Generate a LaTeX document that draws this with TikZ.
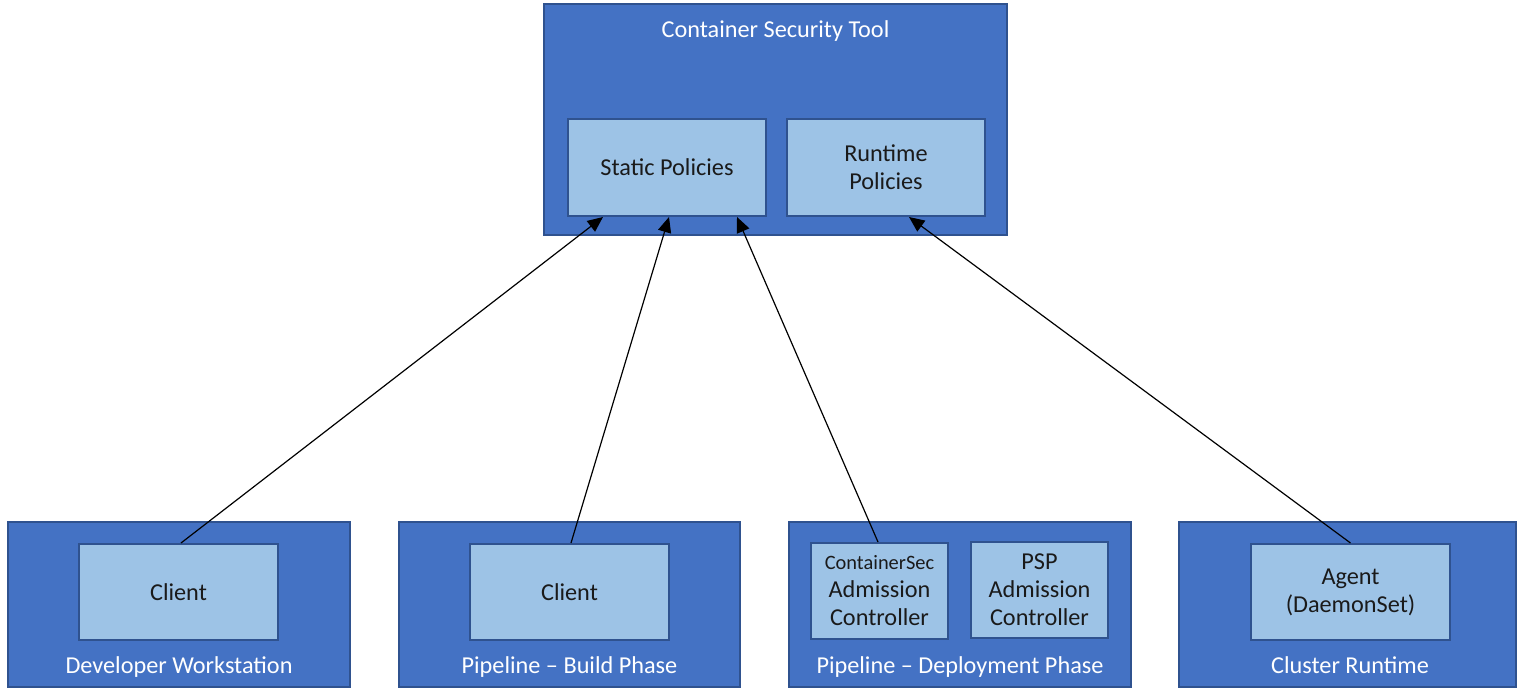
\documentclass[tikz,border=0pt]{standalone}
\usepackage{fontspec}
\setmainfont{Carlito}
\usetikzlibrary{arrows.meta,calc}
\definecolor{outerfill}{HTML}{4472C4}
\definecolor{outerline}{HTML}{2F528F}
\definecolor{innerfill}{HTML}{9DC3E6}
\definecolor{innerline}{HTML}{2F528F}
\definecolor{innertext}{HTML}{1A1A1A}
\tikzset{
  outerbox/.style={draw=outerline, line width=1.5pt, fill=outerfill, inner sep=0pt},
  innerbox/.style={draw=innerline, line width=1.5pt, fill=innerfill, inner sep=0pt,
    text=innertext, align=center, font=\fontsize{18.2}{21}\selectfont},
  boxlabel/.style={text=white, font=\fontsize{18.2}{21}\selectfont, inner sep=0pt, anchor=base},
  link/.style={draw=black, line width=0.9pt, -{Triangle[length=11.5pt,width=10pt]}}
}
\begin{document}
\begin{tikzpicture}[x=0.75pt,y=-0.75pt]
\useasboundingbox (0,0) rectangle (1518,689);

% tool with its two policy sets
\node[outerbox, minimum width=347.25pt, minimum height=173.25pt] (tool) at (775.5,119.5) {};
\node[boxlabel] (toollbl) at (775.5,37) {Container Security Tool};
\node[innerbox, minimum width=148.5pt, minimum height=72.75pt] (static) at (667,167.5) {Static Policies};
\node[innerbox, minimum width=148.5pt, minimum height=72.75pt] (runtime) at (886,167.5) {Runtime\\Policies};

% stages along the bottom
\node[outerbox, minimum width=256.5pt, minimum height=123.75pt] (dev) at (179,604.5) {};
\node[outerbox, minimum width=255.75pt, minimum height=123.75pt] (build) at (569.5,604.5) {};
\node[outerbox, minimum width=256.5pt, minimum height=123.75pt] (deploy) at (960,604.5) {};
\node[outerbox, minimum width=252.75pt, minimum height=123.75pt] (cluster) at (1347.5,604.5) {};

\node[boxlabel] (devlbl) at (179,673) {Developer Workstation};
\node[boxlabel] (buildlbl) at (569.5,673) {Pipeline -- Build Phase};
\node[boxlabel] (deploylbl) at (960,673) {Pipeline -- Deployment Phase};
\node[boxlabel] (clusterlbl) at (1350,673) {Cluster Runtime};

\node[innerbox, minimum width=149.25pt, minimum height=72pt] (client1) at (178.5,592) {Client};
\node[innerbox, minimum width=149.25pt, minimum height=72pt] (client2) at (569.5,592) {Client};
\node[innerbox, minimum width=102.75pt, minimum height=72pt] (csec) at (879.5,591)
  {{\fontsize{15.3}{20}\selectfont ContainerSec}\\Admission\\Controller};
\node[innerbox, minimum width=102.75pt, minimum height=72pt] (psp) at (1039.5,589.5)
  {PSP\\Admission\\Controller};
\node[innerbox, minimum width=149.25pt, minimum height=72pt] (agent) at (1350.5,592) {Agent\\(DaemonSet)};

% reporting links
\draw[link] ($(client1.north)+(2.5,0)$) -- ($(static.south west)+(36,0)$);
\draw[link] ($(client2.north)+(1.5,0)$) -- ($(static.south west)+(102,0)$);
\draw[link] ($(csec.north)+(-1.5,0)$) -- ($(static.south west)+(170,0)$);
\draw[link] (agent.north) -- ($(runtime.south west)+(123,0)$);
\end{tikzpicture}
\end{document}
